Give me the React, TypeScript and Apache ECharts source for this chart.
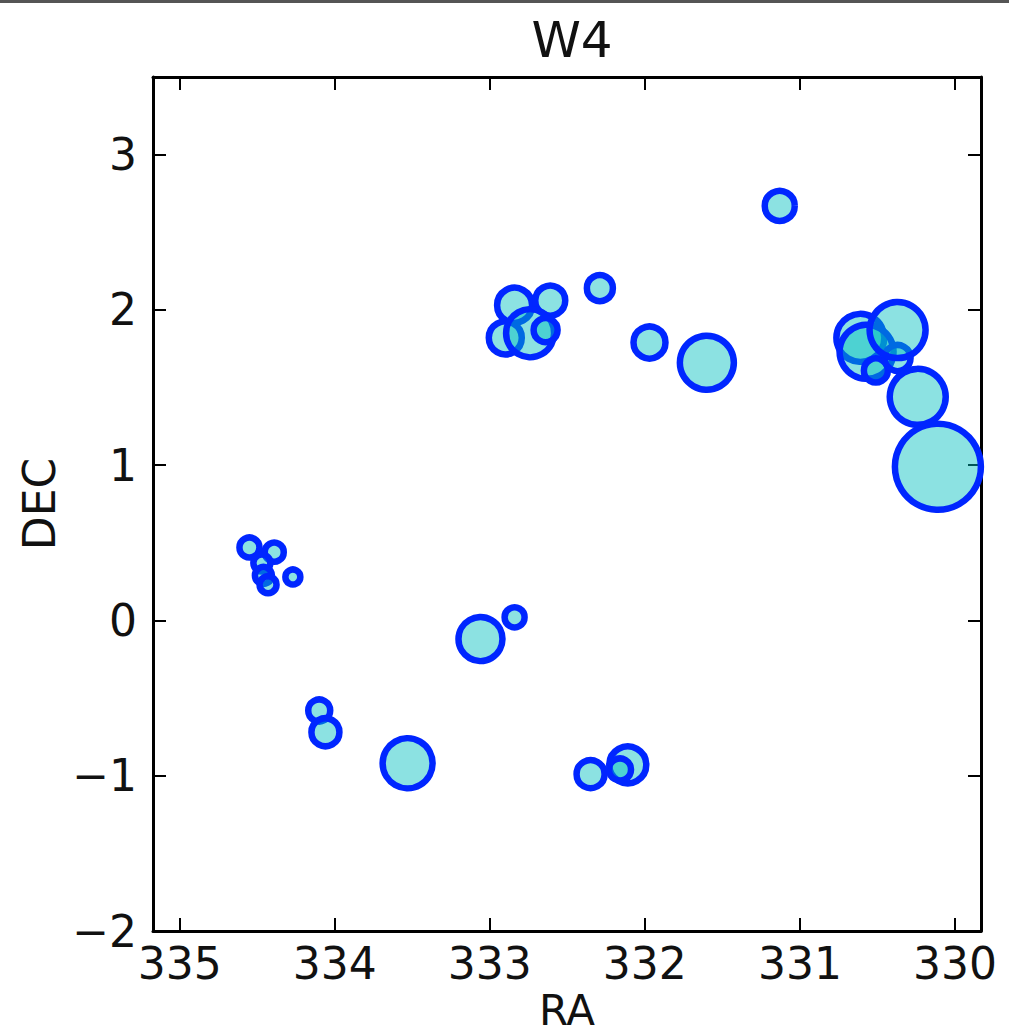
import React, { useEffect, useRef } from "react";
import * as echarts from "echarts";

const ra = [
  331.13, 332.29, 332.84, 332.90, 332.61, 332.74, 332.64, 331.97, 331.60,
  330.61, 330.57, 330.51, 330.37, 330.37, 330.24, 330.11,
  334.55, 334.39, 334.47, 334.46, 334.43, 334.27,
  333.06, 332.84, 334.10, 334.06, 333.53, 332.35, 332.11, 332.16,
];
const dec = [
  2.67, 2.14, 2.03, 1.82, 2.06, 1.85, 1.87, 1.79, 1.66,
  1.82, 1.73, 1.61, 1.69, 1.87, 1.44, 0.99,
  0.47, 0.44, 0.37, 0.29, 0.23, 0.28,
  -0.12, 0.02, -0.58, -0.72, -0.92, -0.99, -0.93, -0.96,
];
const markerSize = [
  30, 26, 35, 33, 30, 48, 24, 32, 54,
  48, 54, 24, 26, 56, 56, 86,
  20, 19, 17, 17, 17, 15,
  44, 20, 22, 28, 50, 28, 37, 22,
];
const xTickRange = [329.832, 335.172];
const yTickRange = [-2, 3.5];

const FONT = "DejaVu Sans";

export default function App() {
  const ref = useRef<HTMLDivElement>(null);
  useEffect(() => {
    if (!ref.current) return;
    const chart = echarts.init(ref.current, undefined, { renderer: "svg" });
    const data = ra.map((x, i) => [x, dec[i], markerSize[i]]);
    const tickCommon = {
      inside: true,
      length: 13,
      lineStyle: { color: "#000", width: 2 },
    };
    const lineCommon = { show: true, onZero: false, lineStyle: { color: "#000", width: 3 } };
    const labelCommon = { color: "#111", fontSize: 44, fontFamily: FONT };
    chart.setOption({
      animation: false,
      backgroundColor: "#fff",
      title: {
        text: "W4",
        left: 567,
        top: 10,
        textAlign: "center",
        textStyle: { fontSize: 50, fontWeight: "normal", color: "#111", fontFamily: FONT },
      },
      graphic: [
        { type: "rect", shape: { x: 0, y: 0, width: 1009, height: 3 }, style: { fill: "#555" } },
      ],
      grid: {
        left: 153,
        right: 28,
        top: 77,
        bottom: 103,
        containLabel: false,
        outerBoundsMode: "none",
      },
      xAxis: [
        {
          type: "value",
          inverse: true,
          min: xTickRange[0],
          max: xTickRange[1],
          minInterval: 1,
          maxInterval: 1,
          splitNumber: 5,
          position: "bottom",
          name: "RA",
          nameLocation: "middle",
          nameGap: 56,
          nameTextStyle: { fontSize: 42, color: "#111", fontFamily: FONT, lineHeight: 42 },
          axisLine: lineCommon,
          axisTick: tickCommon,
          splitLine: { show: false },
          axisLabel: { ...labelCommon, margin: 10, showMinLabel: false, showMaxLabel: false },
        },
        {
          type: "value",
          inverse: true,
          min: xTickRange[0],
          max: xTickRange[1],
          minInterval: 1,
          maxInterval: 1,
          splitNumber: 5,
          position: "top",
          axisLine: lineCommon,
          axisTick: tickCommon,
          splitLine: { show: false },
          axisLabel: { show: false },
        },
      ],
      yAxis: [
        {
          type: "value",
          min: yTickRange[0],
          max: yTickRange[1],
          interval: 1,
          position: "left",
          name: "DEC",
          nameLocation: "middle",
          nameGap: 86,
          nameTextStyle: { fontSize: 44, color: "#111", fontFamily: FONT },
          axisLine: lineCommon,
          axisTick: tickCommon,
          splitLine: { show: false },
          axisLabel: {
            ...labelCommon,
            margin: 16,
            showMaxLabel: false,
            formatter: (v: number) => (v < 0 ? "\u2212" + Math.abs(v) : String(v)),
          },
        },
        {
          type: "value",
          min: yTickRange[0],
          max: yTickRange[1],
          interval: 1,
          position: "right",
          axisLine: lineCommon,
          axisTick: tickCommon,
          splitLine: { show: false },
          axisLabel: { show: false },
        },
      ],
      series: [
        {
          type: "scatter",
          xAxisIndex: 0,
          yAxisIndex: 0,
          data,
          clip: false,
          symbol: "circle",
          symbolSize: (v: number[]) => v[2],
          itemStyle: {
            color: "rgba(0,191,191,0.45)",
            borderColor: "#0026ff",
            borderWidth: 6.5,
            opacity: 1,
          },
        },
      ],
    });
    return () => chart.dispose();
  }, []);
  return (
    <div
      ref={ref}
      style={{ position: "fixed", left: 0, top: 0, width: 1009, height: 1034 }}
    />
  );
}
